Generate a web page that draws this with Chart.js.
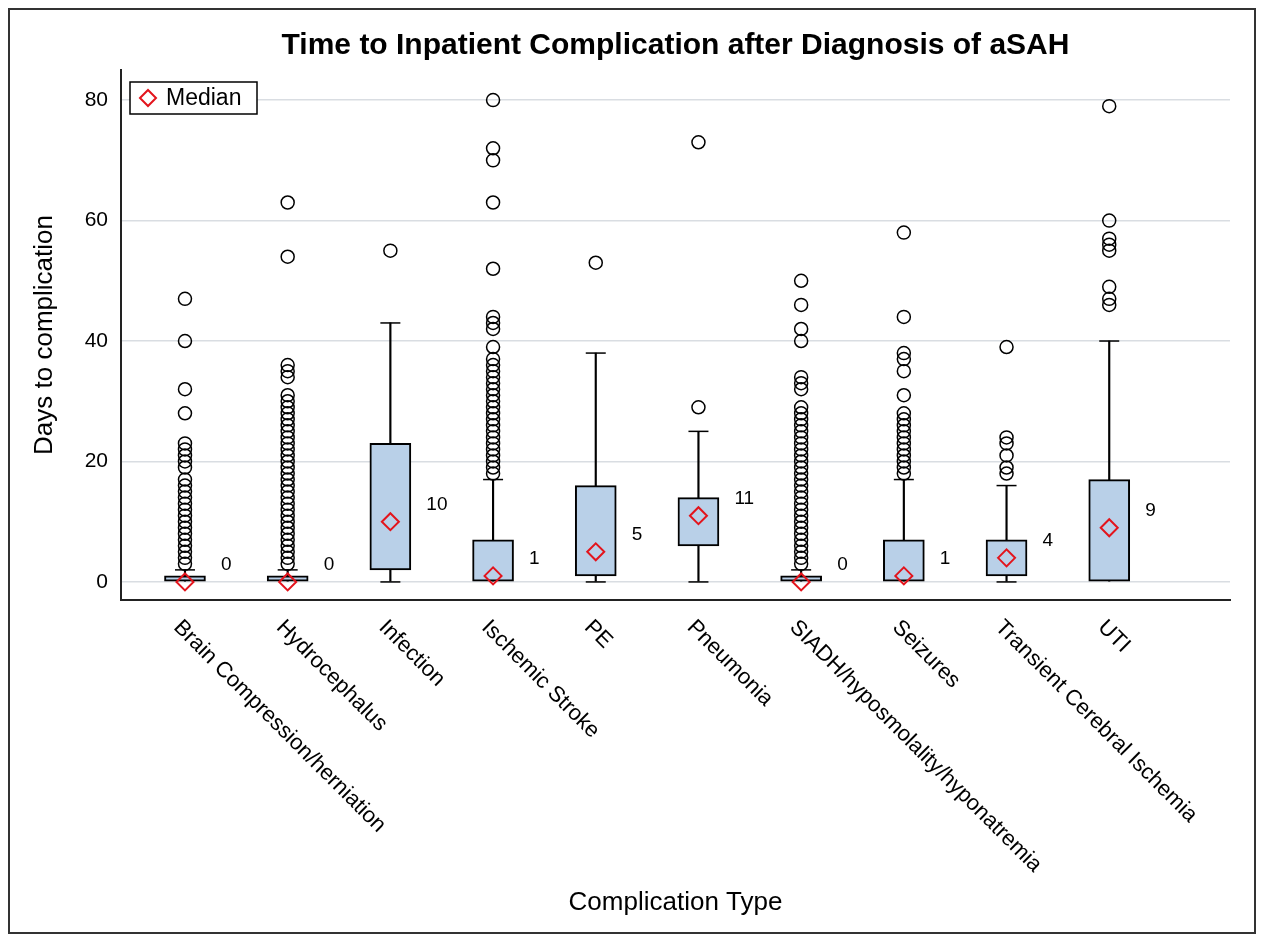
<!DOCTYPE html>
<html lang="en">

<head>
    <meta charset="UTF-8">
    <title>Time to Inpatient Complication after Diagnosis of aSAH</title>
    <style>
        html,
        body {
            margin: 0;
            padding: 0;
            background: #ffffff;
            overflow: hidden;
        }

        #chartBox {
            width: 1264px;
            height: 940px;
        }
    </style>
    <script src="https://cdn.jsdelivr.net/npm/chart.js"></script>
</head>

<body>
    <div id="chartBox"><canvas id="boxChart"></canvas></div>

    <script>
        const categories = [
            'Brain Compression/herniation', 'Hydrocephalus', 'Infection', 'Ischemic Stroke', 'PE',
            'Pneumonia', 'SIADH/hyposmolality/hyponatremia', 'Seizures', 'Transient Cerebral Ischemia', 'UTI'
        ];
        const q1 = [0, 0, 2, 0, 1, 6, 0, 0, 1, 0];
        const medians = [0, 0, 10, 1, 5, 11, 0, 1, 4, 9];
        const q3 = [1, 1, 23, 7, 16, 14, 1, 7, 7, 17];
        const whiskerLow = [0, 0, 0, 0, 0, 0, 0, 0, 0, 0];
        const whiskerHigh = [2, 2, 43, 17, 38, 25, 2, 17, 16, 40];
        const outliers = [
            [3, 4, 5, 6, 7, 8, 9, 10, 11, 12, 13, 14, 15, 16, 17, 19, 20, 21, 22, 23, 28, 32, 40, 47],
            [3, 4, 5, 6, 7, 8, 9, 10, 11, 12, 13, 14, 15, 16, 17, 18, 19, 20, 21, 22, 23, 24, 25, 26, 27, 28, 29, 30, 31, 34, 35, 36, 54, 63],
            [55],
            [18, 19, 20, 21, 22, 23, 24, 25, 26, 27, 28, 29, 30, 31, 32, 33, 34, 35, 36, 37, 39, 42, 43, 44, 52, 63, 70, 72, 80],
            [53],
            [29, 73],
            [3, 4, 5, 6, 7, 8, 9, 10, 11, 12, 13, 14, 15, 16, 17, 18, 19, 20, 21, 22, 23, 24, 25, 26, 27, 28, 29, 32, 33, 34, 40, 42, 46, 50],
            [18, 19, 20, 21, 22, 23, 24, 25, 26, 27, 28, 31, 35, 37, 38, 44, 58],
            [18, 19, 21, 23, 24, 39],
            [46, 47, 49, 55, 56, 57, 60, 79]
        ];
        const yTicks = [0, 20, 40, 60, 80];

        const FONT = "'Liberation Sans', Arial, sans-serif";
        const boxFill = '#b9d0e8';
        const medianRed = '#e3141c';

        // lower caps only where the whisker actually sticks out below the box
        const capPoints = [];
        categories.forEach((c, i) => {
            capPoints.push({ x: i, y: whiskerHigh[i] });
            if (whiskerLow[i] < q1[i]) capPoints.push({ x: i, y: whiskerLow[i] });
        });

        const extras = {
            id: 'extras',
            beforeDraw(chart) {
                const c = chart.ctx;
                c.save();
                c.fillStyle = '#ffffff';
                c.fillRect(0, 0, chart.width, chart.height);
                c.strokeStyle = '#333333';
                c.lineWidth = 2;
                c.strokeRect(9, 9, 1246, 924);
                c.restore();
            },
            afterDraw(chart) {
                const c = chart.ctx;
                const xs = chart.scales.x;
                const ys = chart.scales.y;
                const area = chart.chartArea;
                c.save();
                c.fillStyle = '#000000';

                // rotated category labels
                c.font = '22px ' + FONT;
                c.textAlign = 'left';
                c.textBaseline = 'middle';
                categories.forEach((name, i) => {
                    c.save();
                    c.translate(xs.getPixelForValue(i) - 8, area.bottom + 24);
                    c.rotate(Math.PI / 4);
                    c.fillText(name, 0, 0);
                    c.restore();
                });

                // median value labels
                c.font = '19px ' + FONT;
                medians.forEach((m, i) => {
                    c.fillText(String(m), xs.getPixelForValue(i) + 36, ys.getPixelForValue(m) - 17);
                });

                // legend
                const lx = area.left + 9, ly = area.top + 12;
                c.fillStyle = '#ffffff';
                c.fillRect(lx, ly, 127, 32);
                c.strokeStyle = '#000000';
                c.lineWidth = 1.5;
                c.strokeRect(lx, ly, 127, 32);
                c.strokeStyle = medianRed;
                c.lineWidth = 2;
                c.beginPath();
                c.moveTo(lx + 10, ly + 16);
                c.lineTo(lx + 18, ly + 8);
                c.lineTo(lx + 26, ly + 16);
                c.lineTo(lx + 18, ly + 24);
                c.closePath();
                c.stroke();
                c.fillStyle = '#000000';
                c.font = '23px ' + FONT;
                c.fillText('Median', lx + 36, ly + 17);
                c.restore();
            }
        };

        const ctx = document.getElementById('boxChart').getContext('2d');
        new Chart(ctx, {
            type: 'bar',
            data: {
                datasets: [
                    {
                        type: 'scatter',
                        label: 'Median',
                        data: medians.map((m, i) => ({ x: i, y: m })),
                        pointStyle: 'rectRot',
                        pointRadius: 8.5,
                        borderColor: medianRed,
                        borderWidth: 2,
                        backgroundColor: 'rgba(0,0,0,0)'
                    },
                    {
                        type: 'scatter',
                        label: 'Outliers',
                        data: outliers.flatMap((arr, i) => arr.map(v => ({ x: i, y: v }))),
                        pointStyle: 'circle',
                        pointRadius: 6.5,
                        borderColor: '#000000',
                        borderWidth: 1.5,
                        backgroundColor: 'rgba(0,0,0,0)'
                    },
                    {
                        type: 'scatter',
                        label: 'Caps',
                        data: capPoints,
                        pointStyle: 'line',
                        pointRadius: 10,
                        borderColor: '#000000',
                        borderWidth: 1.5
                    },
                    {
                        type: 'bar',
                        label: 'Box',
                        data: categories.map((c, i) => ({ x: i, y: [q1[i], q3[i]] })),
                        backgroundColor: boxFill,
                        borderColor: '#000000',
                        borderWidth: 2,
                        borderSkipped: false,
                        barThickness: 41,
                        grouped: false
                    },
                    {
                        type: 'bar',
                        label: 'Whisker',
                        data: categories.map((c, i) => ({ x: i, y: [whiskerLow[i], whiskerHigh[i]] })),
                        backgroundColor: '#000000',
                        borderWidth: 0,
                        barThickness: 1.5,
                        grouped: false
                    }
                ]
            },
            options: {
                responsive: true,
                maintainAspectRatio: false,
                animation: false,
                layout: {
                    padding: { left: 0, right: 34, top: 0, bottom: 0 }
                },
                scales: {
                    x: {
                        type: 'linear',
                        min: -0.623,
                        max: 10.176,
                        offset: false,
                        grid: { display: false, drawTicks: false },
                        border: { display: true, color: '#222222', width: 2 },
                        ticks: { display: false },
                        title: {
                            display: true,
                            text: 'Complication Type',
                            color: '#000000',
                            font: { family: FONT, size: 26 },
                            padding: { top: 0, bottom: 22 }
                        },
                        afterFit(scale) { scale.height = 340; }
                    },
                    y: {
                        min: -3,
                        max: 85,
                        afterBuildTicks(scale) { scale.ticks = yTicks.map(v => ({ value: v })); },
                        grid: { color: '#d9dde2', lineWidth: 1.5, drawTicks: false },
                        border: { display: true, color: '#222222', width: 2 },
                        ticks: {
                            color: '#000000',
                            padding: 13,
                            font: { family: FONT, size: 21 }
                        },
                        title: {
                            display: true,
                            text: 'Days to complication',
                            color: '#000000',
                            font: { family: FONT, size: 26 },
                            padding: { top: 29, bottom: 0 }
                        },
                        afterFit(scale) { scale.width = 121; }
                    }
                },
                plugins: {
                    legend: { display: false },
                    tooltip: { enabled: false },
                    title: {
                        display: true,
                        fullSize: false,
                        text: 'Time to Inpatient Complication after Diagnosis of aSAH',
                        color: '#000000',
                        font: { family: FONT, size: 30, weight: 'bold' },
                        padding: { top: 28, bottom: 6 }
                    }
                }
            },
            plugins: [extras]
        });
    </script>
</body>

</html>
